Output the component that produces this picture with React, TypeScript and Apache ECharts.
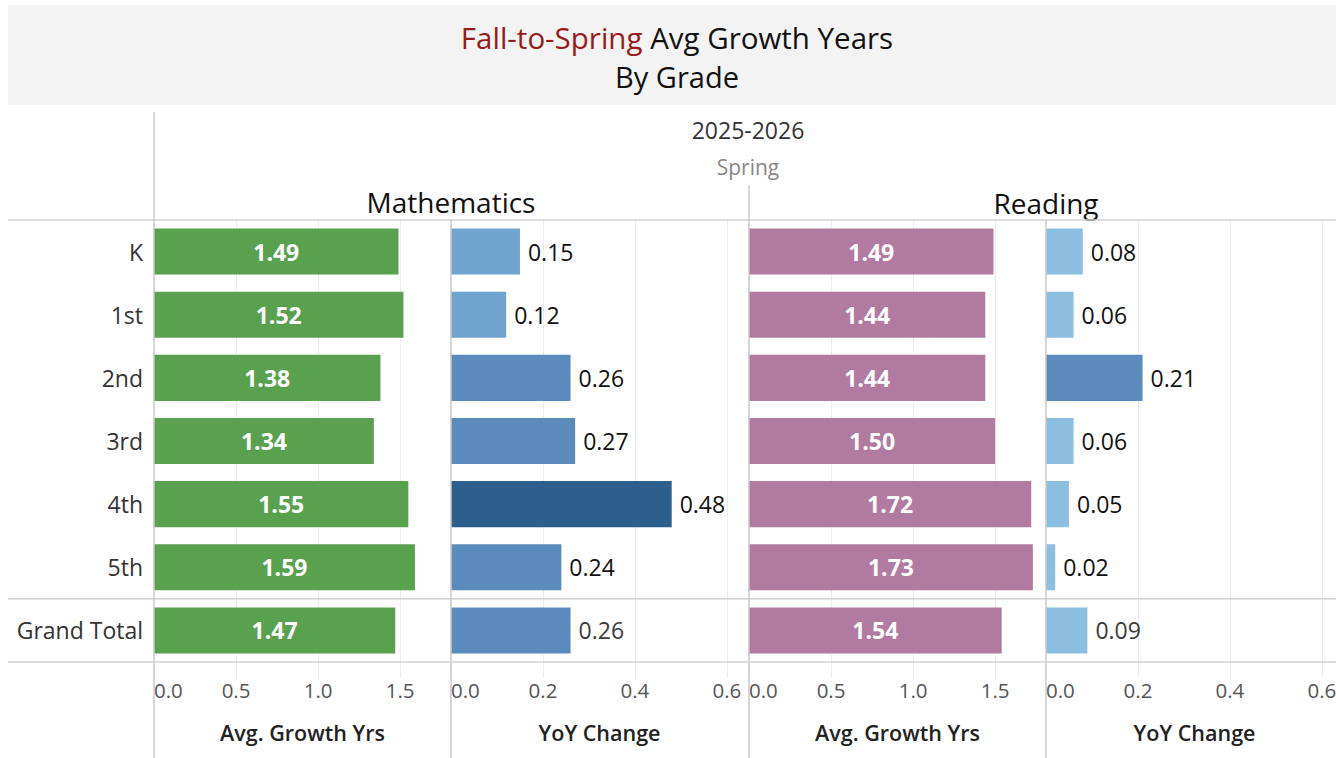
import React, { useEffect, useRef } from "react";
import * as echarts from "echarts";

const grades = ["K", "1st", "2nd", "3rd", "4th", "5th", "Grand Total"];
const mathAvg = [1.49, 1.52, 1.38, 1.34, 1.55, 1.59, 1.47];
const mathYoY = [0.15, 0.12, 0.26, 0.27, 0.48, 0.24, 0.26];
const readAvg = [1.49, 1.44, 1.44, 1.5, 1.72, 1.73, 1.54];
const readYoY = [0.08, 0.06, 0.21, 0.06, 0.05, 0.02, 0.09];

const titleRed = "Fall-to-Spring";
const titleRest = " Avg Growth Years";
const titleLine2 = "By Grade";
const yearLabel = "2025-2026";
const termLabel = "Spring";
const subjects = ["Mathematics", "Reading"];
const measureNames = ["Avg. Growth Yrs", "YoY Change", "Avg. Growth Yrs", "YoY Change"];

const FONT = "'Open Sans', 'Noto Sans', sans-serif";
const GREEN = "#59a14f";
const MAUVE = "#b07aa1";
const LINE = "#d2d2d2";

const yoyColor = (v: number) =>
  v >= 0.4 ? "#2d5f8c" : v >= 0.2 ? "#5a8bbb" : v >= 0.1 ? "#6fa4cf" : "#8cbfdf";

export default function App() {
  const ref = useRef<HTMLDivElement>(null);
  useEffect(() => {
    if (!ref.current) return;
    const chart = echarts.init(ref.current, null, { renderer: "svg" });

    const TOP = 220;
    const BOTTOM_Y = 662;
    const H = BOTTOM_Y - TOP;
    const lefts = [154, 451, 749, 1046];
    const W = 297;
    const maxes = [1.81, 0.646, 1.81, 0.646];
    const intervals = [0.5, 0.2, 0.5, 0.2];
    const last = grades.length - 1;

    const grids = lefts.map((l) => ({
      left: l,
      top: TOP,
      width: W,
      height: H,
      containLabel: false,
      outerBoundsMode: "none",
    }));

    const xAxes = lefts.map((_, i) => ({
      type: "value",
      gridIndex: i,
      min: 0,
      max: maxes[i],
      interval: intervals[i],
      position: "bottom",
      name: measureNames[i],
      nameLocation: "middle",
      nameGap: 59,
      nameTextStyle: { fontFamily: FONT, fontSize: 21.5, fontWeight: 600, color: "#222" },
      axisLine: { show: false },
      axisTick: { show: true, length: 16, lineStyle: { color: "#eeeeee" } },
      axisLabel: {
        show: true,
        margin: 17,
        fontFamily: FONT,
        fontSize: 20.5,
        color: "#555",
        showMaxLabel: false,
        alignMinLabel: "left",
        formatter: (v: number) => v.toFixed(1),
      },
      splitLine: { show: true, showMinLine: false, showMaxLine: false, lineStyle: { color: "#ececec" } },
    }));

    const yAxes = lefts.map((_, i) => ({
      type: "category",
      gridIndex: i,
      data: grades,
      inverse: true,
      axisLine: { show: false },
      axisTick: { show: false },
      axisLabel: {
        show: i === 0,
        margin: 11,
        fontFamily: FONT,
        fontSize: 23,
        color: "#333",
      },
      splitLine: { show: false },
    }));

    const avgLabel = {
      show: true,
      position: "inside",
      color: "#fff",
      fontFamily: FONT,
      fontSize: 23,
      fontWeight: "bold",
      formatter: (p: any) => Number(p.value).toFixed(2),
    };
    const yoyLabel = {
      show: true,
      position: "right",
      distance: 8,
      color: "#111",
      fontFamily: FONT,
      fontSize: 23,
      fontWeight: 500,
      formatter: (p: any) => Number(p.value).toFixed(2),
    };
    const yoyData = (arr: number[]) =>
      arr.map((v, i) =>
        i === last ? { value: v, label: { color: "#3a3a3a", fontWeight: "normal" } } : v
      );

    const series = [
      { data: mathAvg, color: GREEN, label: avgLabel },
      { data: yoyData(mathYoY), color: null, label: yoyLabel },
      { data: readAvg, color: MAUVE, label: avgLabel },
      { data: yoyData(readYoY), color: null, label: yoyLabel },
    ].map((s, i) => ({
      type: "bar",
      xAxisIndex: i,
      yAxisIndex: i,
      data: s.data,
      barCategoryGap: "27%",
      itemStyle: {
        color: s.color ? s.color : (p: any) => yoyColor(Number(p.value)),
      },
      label: s.label,
    }));

    const hLine = (y: number) => ({
      type: "line",
      shape: { x1: 8, y1: y, x2: 1336, y2: y },
      style: { stroke: LINE, lineWidth: 1.5 },
      z: 10,
    });
    const vLine = (x: number, y1: number) => ({
      type: "line",
      shape: { x1: x, y1, x2: x, y2: 758 },
      style: { stroke: "#c8c8c8", lineWidth: 1.5 },
      z: 10,
    });

    const rowH = H / grades.length;

    chart.setOption({
      animation: false,
      grid: grids,
      xAxis: xAxes,
      yAxis: yAxes,
      series,
      graphic: [
        {
          type: "rect",
          shape: { x: 8, y: 5, width: 1328, height: 100 },
          style: { fill: "#f3f3f3" },
          z: 0,
        },
        {
          type: "text",
          x: 677,
          y: 37,
          style: {
            text: "{r|" + titleRed + "}{b|" + titleRest + "}",
            align: "center",
            verticalAlign: "middle",
            rich: {
              r: { fontFamily: FONT, fontSize: 29.5, fill: "#981a1a", color: "#981a1a" },
              b: { fontFamily: FONT, fontSize: 29.5, fill: "#111", color: "#111" },
            },
          },
          z: 5,
        },
        {
          type: "text",
          x: 677,
          y: 76,
          style: {
            text: titleLine2,
            align: "center",
            verticalAlign: "middle",
            fontFamily: FONT,
            fontSize: 29,
            fill: "#111",
          },
          z: 5,
        },
        {
          type: "text",
          x: 748,
          y: 130,
          style: { text: yearLabel, align: "center", verticalAlign: "middle", fontFamily: FONT, fontSize: 23, fill: "#333" },
        },
        {
          type: "text",
          x: 748,
          y: 167,
          style: { text: termLabel, align: "center", verticalAlign: "middle", fontFamily: FONT, fontSize: 21, fill: "#888" },
        },
        {
          type: "text",
          x: 451,
          y: 202,
          style: { text: subjects[0], align: "center", verticalAlign: "middle", fontFamily: FONT, fontSize: 28, fill: "#111" },
        },
        {
          type: "text",
          x: 1046,
          y: 203,
          style: { text: subjects[1], align: "center", verticalAlign: "middle", fontFamily: FONT, fontSize: 28, fill: "#111" },
        },
        hLine(TOP),
        hLine(TOP + rowH * last),
        hLine(BOTTOM_Y),
        vLine(154, 112),
        vLine(451, TOP),
        vLine(749, 185),
        vLine(1046, TOP),
      ],
    });

    return () => chart.dispose();
  }, []);

  return (
    <div
      ref={ref}
      style={{ position: "fixed", left: 0, top: 0, width: 1336, height: 758, background: "#fff" }}
    />
  );
}
